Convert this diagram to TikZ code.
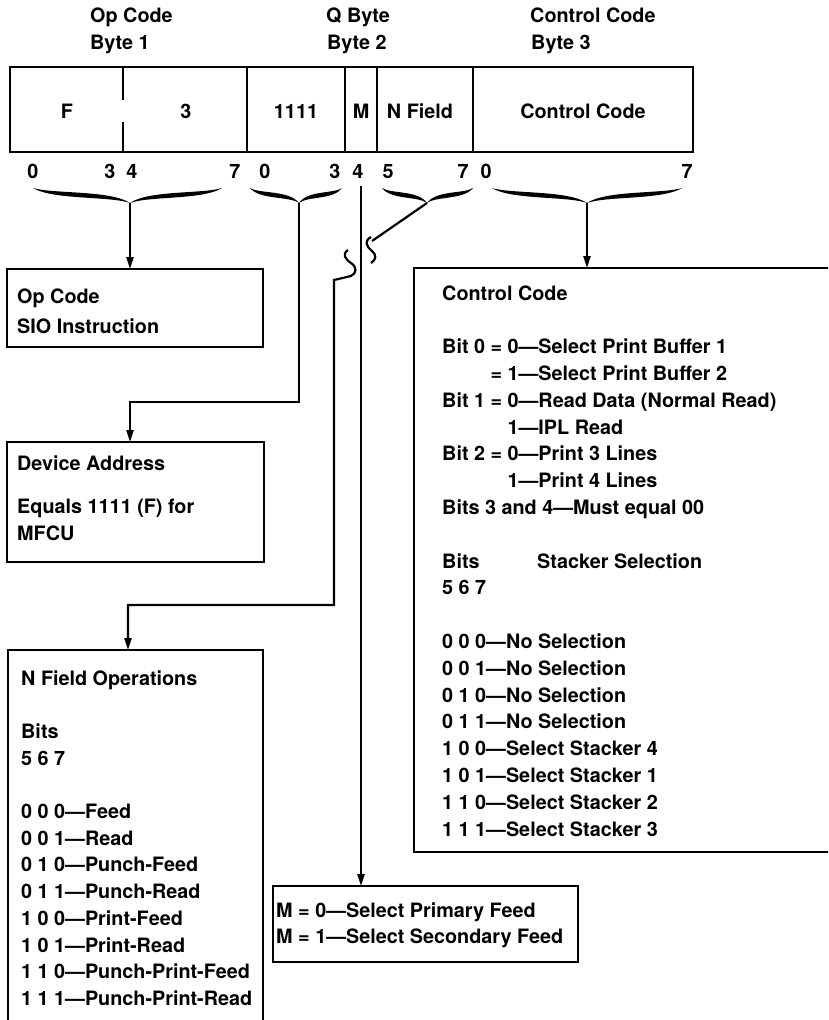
\documentclass[tikz,border=0pt]{standalone}
\usepackage{fontspec}
\setmainfont{TeX Gyre Heros}
\usetikzlibrary{arrows.meta}
\tikzset{field/.style={draw,line width=1.8pt,inner sep=0pt,outer sep=0pt},
         txt/.style={anchor=base west,inner sep=0pt,font=\fontsize{19.8}{24}\selectfont\bfseries},
         lbl/.style={txt,anchor=base},
         rule/.style={line width=1.8pt},
         wire/.style={line width=2.2pt},
         feed/.style={wire,-{Triangle[length=12pt,width=7pt]}},
        }
% curly brace under a group of bits: left x, tip x, right x, name of the tip
\newcommand{\bitbrace}[4]{%
  \fill (#1,188) .. controls ({#1+0.2*(#2-#1)},200) and ({#2-0.2*(#2-#1)},196) .. (#2,203)
        .. controls ({#2-0.2*(#2-#1)},190) and ({#1+0.2*(#2-#1)},194) .. (#1,188);
  \fill (#3,188) .. controls ({#3-0.2*(#3-#2)},200) and ({#2+0.2*(#3-#2)},196) .. (#2,203)
        .. controls ({#2+0.2*(#3-#2)},190) and ({#3-0.2*(#3-#2)},194) .. (#3,188);
  \coordinate (#4) at (#2,203);
}

\begin{document}
\begin{tikzpicture}[x=1pt,y=-1pt]
    \useasboundingbox (0,0) rectangle (828,1020);
    \clip (0,0) rectangle (828,1020);

    % byte headings
    \node[txt](opname)at(90,22){Op Code};
    \node[txt](opbyte)at(90,49){Byte 1};
    \node[txt](qname)at(326,22){Q Byte};
    \node[txt](qbyte)at(327,49){Byte 2};
    \node[txt](ccname)at(530,22){Control Code};
    \node[txt](ccbyte)at(531,49){Byte 3};

    % instruction fields
    \node[field,anchor=north west,minimum width=683pt,minimum height=85pt](instr)at(10,67){};
    \foreach \x in {247,345,377,473}
        \draw[rule](\x,67)--(\x,152);
    \draw[rule](123,67)--(123,100) (123,122)--(123,152);
    \foreach \x/\t [count=\i] in {67/F,186/3,296/1111,361/M,420/N Field,583/Control Code}
        \node[lbl](fld\i)at(\x,118){\t};
    \foreach \x/\t [count=\i] in {33/0,110/3,132/4,235/7,265/0,335/3,358/4,388/5,463/7,486/0,687/7}
        \node[lbl](bit\i)at(\x,178){\t};

    \bitbrace{33}{130}{222}{optip}
    \bitbrace{250}{299}{342}{datip}
    \bitbrace{382}{427}{473}{nftip}
    \bitbrace{492}{587}{682}{cctip}

    % boxes (nbox and ccbox run off the page)
    \node[field,anchor=north west,minimum width=256pt,minimum height=78pt](opbox)at(7,269){};
    \node[field,anchor=north west,minimum width=257pt,minimum height=120pt](devbox)at(7,442){};
    \node[field,anchor=north west,minimum width=255pt,minimum height=400pt](nbox)at(8,650){};
    \node[field,anchor=north west,minimum width=440pt,minimum height=584pt](ccbox)at(414,268){};
    \node[field,anchor=north west,minimum width=305pt,minimum height=76pt](mbox)at(273,886){};

    \node[txt](op1)at(17,303){Op Code};
    \node[txt](op2)at(17,333){SIO Instruction};

    \node[txt](dev1)at(17,470){Device Address};
    \node[txt](dev2)at(17,513){Equals 1111 (F) for};
    \node[txt](dev3)at(17,540){MFCU};

    \foreach \n/\t in {0/N Field Operations,2/Bits,3/5 6 7,
                       5/0 0 0—Feed,6/0 0 1—Read,7/0 1 0—Punch-Feed,8/0 1 1—Punch-Read,
                       9/1 0 0—Print-Feed,10/1 0 1—Print-Read,11/1 1 0—Punch-Print-Feed,
                       12/1 1 1—Punch-Print-Read}
        \node[txt](nf\n)at(21,{685+26.7*\n}){\t};

    \foreach \n/\t in {0/Control Code,
                       2/Bit 0 = 0—Select Print Buffer 1,
                       3/\phantom{Bit 0 }= 1—Select Print Buffer 2,
                       4/Bit 1 = 0—Read Data (Normal Read),
                       5/\phantom{Bit 1 = }1—IPL Read,
                       6/Bit 2 = 0—Print 3 Lines,
                       7/\phantom{Bit 2 = }1—Print 4 Lines,
                       8/Bits 3 and 4—Must equal 00,
                       10/\makebox[95pt][l]{Bits}Stacker Selection,
                       11/5 6 7,
                       13/0 0 0—No Selection,14/0 0 1—No Selection,
                       15/0 1 0—No Selection,16/0 1 1—No Selection,
                       17/1 0 0—Select Stacker 4,18/1 0 1—Select Stacker 1,
                       19/1 1 0—Select Stacker 2,20/1 1 1—Select Stacker 3}
        \node[txt](cc\n)at(442,{300+26.8*\n}){\t};

    \node[txt](m0)at(276,917){M = 0—Select Primary Feed};
    \node[txt](m1)at(276,943){M = 1—Select Secondary Feed};

    % connectors
    \coordinate(mbit)at(361,186);
    \draw[feed](optip)--(optip|-opbox.north);
    \draw[feed](cctip)--(cctip|-ccbox.north);
    \draw[feed](mbit)--(mbit|-mbox.north);
    \draw[feed](datip)--(299,402)-|([xshift=123pt]devbox.north west);

    % N field line jumps over the M line
    \draw[wire](nftip)--(372,241);
    \draw[wire](371,237).. controls (364,241) and (366,246) ..(372,251)
                        .. controls (377,255) and (376,260) ..(371,263);
    \draw[feed](348,250).. controls (342,254) and (345,259) ..(351,263)
                        .. controls (357,267) and (357,273) ..(351,276)
               --(334,280)--(334,605)-|([xshift=120pt]nbox.north west);
\end{tikzpicture}
\end{document}
